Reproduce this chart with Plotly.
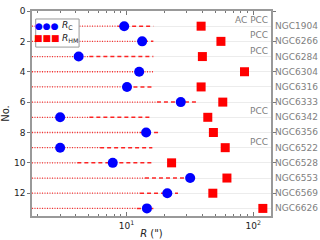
import plotly.graph_objects as go

names = ["NGC1904", "NGC6266", "NGC6284", "NGC6304", "NGC6316", "NGC6333", "NGC6342",
         "NGC6356", "NGC6522", "NGC6528", "NGC6553", "NGC6569", "NGC6626"]
flags = ["AC PCC", "PCC", "PCC", "", "", "", "PCC", "", "PCC", "", "", "", ""]
row_no = list(range(1, 14))
r_c = [9.6, 13.3, 4.2, 12.6, 10.1, 26.8, 3.0, 14.3, 3.0, 7.8, 31.8, 21.0, 14.5]
r_hm = [38.8, 55.6, 39.7, 85.3, 38.8, 57.5, 43.8, 48.5, 60.1, 22.7, 62.0, 48.0, 119.0]
dot_end = [8.6, 12.1, 5.1, 16.3, 10.0, 17.4, 5.1, 12.8, 6.2, 4.1, 14.0, 12.8, 12.1]
dash_lo = [8.6, 12.1, 5.1, None, 10.0, 17.4, 5.1, 12.8, 6.2, 4.1, 14.0, 12.8, 12.1]
dash_hi = [16.3, 16.3, 16.3, None, 16.0, 36.6, 16.0, 18.4, 16.0, 16.0, 34.8, 25.5, 16.3]
x_min, x_max = 1.8, 138.0
x_major = [10, 100]
x_major_text = ["10<sup>1</sup>", "10<sup>2</sup>"]
x_minor = [2, 3, 4, 5, 6, 7, 8, 9, 20, 30, 40, 50, 60, 70, 80, 90]
y_ticks = [0, 2, 4, 6, 8, 10, 12]
legend_labels = ["<i>R</i><sub>C</sub>", "<i>R</i><sub>HM</sub>"]
legend_glyphs = ["\u25cf\u25cf\u25cf", "\u25a0\u25a0\u25a0"]
legend_colors = ["#0000ff", "#ff0000"]

FONT = "DejaVu Sans"
fig = go.Figure()

dx, dy = [], []
for n, e in zip(row_no, dot_end):
    dx += [x_min, e, None]
    dy += [n, n, None]
fig.add_trace(go.Scatter(x=dx, y=dy, mode="lines", showlegend=False, hoverinfo="skip",
                         line=dict(color="rgba(255,0,0,0.8)", width=1.3, dash="1px,1.5px")))
sx, sy = [], []
for n, lo, hi in zip(row_no, dash_lo, dash_hi):
    if lo is None:
        continue
    sx += [lo, hi, None]
    sy += [n, n, None]
fig.add_trace(go.Scatter(x=sx, y=sy, mode="lines", showlegend=False, hoverinfo="skip",
                         line=dict(color="rgba(255,0,0,0.85)", width=1.5, dash="4px,3px")))

fig.add_trace(go.Scatter(x=r_c, y=row_no, mode="markers", name=legend_labels[0], showlegend=False,
                         marker=dict(symbol="circle", size=10, color="#0000ff")))
fig.add_trace(go.Scatter(x=r_hm, y=row_no, mode="markers", name=legend_labels[1], showlegend=False,
                         marker=dict(symbol="square", size=9, color="#ff0000")))

for n, name, fl in zip(row_no, names, flags):
    fig.add_annotation(x=1.0, xref="paper", y=n, yref="y", text=name, showarrow=False,
                       xanchor="left", xshift=2, font=dict(family=FONT, size=9, color="#808080"))
    if fl:
        fig.add_annotation(x=1.0, xref="paper", y=n, yref="y", text=fl, showarrow=False,
                           xanchor="right", yanchor="bottom", xshift=-1, yshift=-1,
                           font=dict(family=FONT, size=9, color="#808080"))

# hand-made legend (matplotlib style with three markers)
fig.add_shape(type="rect", xref="paper", yref="paper", x0=0.0155, x1=0.197, y0=0.824, y1=0.961,
              line=dict(color="#999", width=1), fillcolor="white", layer="above")
for i, (lab, gl, col) in enumerate(zip(legend_labels, legend_glyphs, legend_colors)):
    ly = 0.928 - i * 0.061
    fig.add_annotation(x=0.0615, y=ly, xref="paper", yref="paper", text=gl, showarrow=False,
                       xanchor="center", yanchor="middle", font=dict(family=FONT, size=9, color=col))
    fig.add_annotation(x=0.118, y=ly, xref="paper", yref="paper", text=lab, showarrow=False,
                       xanchor="left", yanchor="middle", font=dict(family=FONT, size=9, color="#222"))

fig.update_layout(
    width=320, height=240,
    margin=dict(l=32, r=49, t=11, b=24, autoexpand=False),
    paper_bgcolor="white", plot_bgcolor="white",
    font=dict(family=FONT, size=9, color="#222"),
    showlegend=False,
    xaxis=dict(type="log", range=[0.2553, 2.1399], tickvals=x_major, ticktext=x_major_text,
               ticks="inside", ticklen=4, tickcolor="#777", showgrid=False, automargin=False,
               minor=dict(tickvals=x_minor, ticks="inside", ticklen=2, tickcolor="#777", showgrid=False),
               showline=True, linecolor="#999", linewidth=1.5, mirror="ticks",
               title=dict(text="<i>R</i> (\")", standoff=0, font=dict(size=10)),
               tickfont=dict(size=9), zeroline=False),
    yaxis=dict(range=[13.5, 0], tickvals=y_ticks, ticks="outside", ticklen=3, tickcolor="#777",
               showgrid=True, gridcolor="#ececec", gridwidth=1, automargin=False,
               minor=dict(dtick=1, tick0=0, showgrid=True, gridcolor="#ececec", ticks=""),
               showline=True, linecolor="#999", linewidth=1.5, mirror="ticks",
               title=dict(text="No.", standoff=2, font=dict(size=10)),
               tickfont=dict(size=9), zeroline=False),
)

fig.write_html("out.html", config={"displayModeBar": False},
               post_script="document.body.style.margin='0';")
